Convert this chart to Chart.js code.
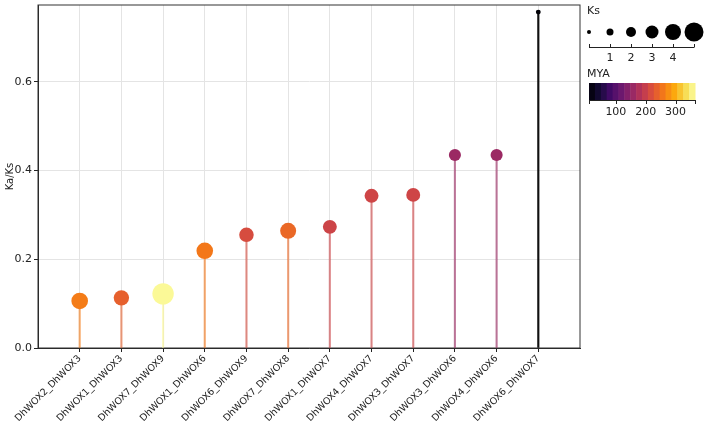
<!DOCTYPE html>
<html>
<head>
<meta charset="utf-8">
<script src="https://cdn.jsdelivr.net/npm/chart.js@4.4.1/dist/chart.umd.min.js"></script>
<style>
  html, body { margin: 0; padding: 0; background: #fff; }
  #wrap { width: 709px; height: 434px; }
</style>
</head>
<body>
<div id="wrap"><canvas id="chart" width="709" height="434"></canvas></div>
<script>
// Data
const pairs = ['DhWOX2_DhWOX3', 'DhWOX1_DhWOX3', 'DhWOX7_DhWOX9', 'DhWOX1_DhWOX6', 'DhWOX6_DhWOX9', 'DhWOX7_DhWOX8',
  'DhWOX1_DhWOX7', 'DhWOX4_DhWOX7', 'DhWOX3_DhWOX7', 'DhWOX3_DhWOX6', 'DhWOX4_DhWOX6', 'DhWOX6_DhWOX7'];
const kaks = [0.106, 0.113, 0.122, 0.219, 0.255, 0.264, 0.273, 0.343, 0.345, 0.435, 0.435, 0.757];
const ks = [4.2, 3.8, 5.8, 4.2, 3.5, 4.0, 3.3, 3.3, 3.3, 2.7, 2.7, 0.3];
const mya = [262, 237, 360, 258, 216, 244, 205, 207, 207, 159, 159, 12];
const yTicks = [0, 0.2, 0.4, 0.6];
const ksLegend = [0, 1, 2, 3, 4, 5];
const ksLegendTicks = [1, 2, 3, 4];
const myaTicks = [100, 200, 300];
const myaRange = [10, 365];

// inferno colormap
const infernoStops = ['#000004', '#160b39', '#420a68', '#6a176e', '#932667', '#bc3754',
  '#dd513a', '#f37819', '#fca50a', '#f6d746', '#fcffa4'];
function hexRgb(h) {
  return [parseInt(h.slice(1, 3), 16), parseInt(h.slice(3, 5), 16), parseInt(h.slice(5, 7), 16)];
}
function inferno(t) {
  t = Math.max(0, Math.min(1, t));
  const p = t * (infernoStops.length - 1);
  const i = Math.min(Math.floor(p), infernoStops.length - 2);
  const f = p - i;
  const a = hexRgb(infernoStops[i]), b = hexRgb(infernoStops[i + 1]);
  return a.map((v, k) => Math.round(v + (b[k] - v) * f));
}
const myaT = m => (m - myaRange[0]) / (myaRange[1] - myaRange[0]);
const rgb = (c, a) => a === undefined ? `rgb(${c.join(',')})` : `rgba(${c.join(',')},${a})`;
const ksRadius = k => 2 + 1.5 * k;

const pointColors = mya.map(m => rgb(inferno(myaT(m))));
const stemColors = mya.map(m => m < 40 ? '#111' : rgb(inferno(myaT(m)), 0.6));

const FONT = 'DejaVu Sans';

// box around plot + legend on the right
const extras = {
  id: 'extras',
  beforeDatasetsDraw(chart) {
    const { ctx, chartArea: a } = chart;
    ctx.save();
    ctx.strokeStyle = '#333';
    ctx.lineWidth = 1;
    ctx.strokeRect(a.left, a.top, a.right - a.left, a.bottom - a.top);
    ctx.restore();
  },
  afterDraw(chart) {
    const ctx = chart.ctx;
    ctx.save();
    ctx.fillStyle = '#222';
    ctx.strokeStyle = '#222';
    ctx.font = `11px ${FONT}`;
    ctx.textBaseline = 'middle';
    ctx.textAlign = 'left';
    // Ks size legend
    ctx.fillText('Ks', 587, 11);
    const kx0 = 589, kdx = 21, ky = 32, kaxis = 47;
    ksLegend.forEach(k => {
      ctx.beginPath();
      ctx.arc(kx0 + k * kdx, ky, ksRadius(k), 0, Math.PI * 2);
      ctx.fillStyle = '#000';
      ctx.fill();
    });
    ctx.lineWidth = 1;
    ctx.beginPath();
    ctx.moveTo(kx0, kaxis + 0.5);
    ctx.lineTo(kx0 + 5 * kdx, kaxis + 0.5);
    [0, ...ksLegendTicks, 5].forEach(k => {
      const x = Math.round(kx0 + k * kdx) + 0.5;
      ctx.moveTo(x, kaxis - 3);
      ctx.lineTo(x, kaxis + 0.5);
    });
    ctx.stroke();
    ctx.fillStyle = '#222';
    ctx.textAlign = 'center';
    ksLegendTicks.forEach(k => ctx.fillText(String(k), kx0 + k * kdx, 58));
    // MYA colorbar
    ctx.textAlign = 'left';
    ctx.fillText('MYA', 587, 74);
    const cx0 = 589, cx1 = 695, cy0 = 83, cy1 = 100, nBlocks = 18;
    const bw = (cx1 - cx0) / nBlocks;
    for (let i = 0; i < nBlocks; i++) {
      ctx.fillStyle = rgb(inferno((i + 0.5) / nBlocks));
      ctx.fillRect(cx0 + i * bw, cy0, bw + 0.5, cy1 - cy0);
    }
    const mx = m => cx0 + (m - myaRange[0]) / (myaRange[1] - myaRange[0]) * (cx1 - cx0);
    ctx.beginPath();
    ctx.moveTo(cx0, cy1 + 0.5);
    ctx.lineTo(cx1, cy1 + 0.5);
    [cx0, ...myaTicks.map(mx), cx1].forEach(x => {
      ctx.moveTo(Math.round(x) + 0.5, cy1);
      ctx.lineTo(Math.round(x) + 0.5, cy1 + 4);
    });
    ctx.stroke();
    ctx.fillStyle = '#222';
    ctx.textAlign = 'center';
    myaTicks.forEach(m => ctx.fillText(String(m), mx(m), 112));
    ctx.restore();
  }
};

new Chart(document.getElementById('chart'), {
  type: 'bar',
  data: {
    datasets: [
      {
        type: 'scatter',
        label: 'Ka/Ks',
        data: kaks.map((v, i) => ({ x: i, y: v })),
        pointRadius: ks.map(ksRadius),
        pointBackgroundColor: pointColors,
        pointBorderWidth: 0,
        pointBorderColor: 'transparent',
        order: 0
      },
      {
        type: 'bar',
        label: 'stem',
        data: kaks.map((v, i) => ({ x: i, y: v })),
        backgroundColor: stemColors,
        barThickness: 1.5,
        borderWidth: 0,
        order: 1
      }
    ]
  },
  options: {
    responsive: false,
    animation: false,
    layout: { autoPadding: false, padding: { top: 5, right: 129, left: 0, bottom: 0 } },
    plugins: { legend: { display: false }, tooltip: { enabled: false } },
    scales: {
      x: {
        type: 'linear',
        offset: false,
        min: -1,
        max: 12,
        afterBuildTicks: axis => { axis.ticks = pairs.map((p, i) => ({ value: i })); },
        afterFit: axis => { axis.height = 86; axis.paddingLeft = 0; axis.paddingRight = 0; },
        grid: { offset: false, color: '#e4e4e4', tickColor: '#222', tickLength: 4, lineWidth: 1 },
        border: { color: '#222', width: 1 },
        ticks: {
          autoSkip: false,
          minRotation: 45,
          maxRotation: 45,
          padding: 1,
          color: '#222',
          font: { family: FONT, size: 9.5 },
          callback: v => pairs[v] !== undefined ? pairs[v] : ''
        }
      },
      y: {
        min: 0,
        max: 0.773,
        afterBuildTicks: axis => { axis.ticks = yTicks.map(v => ({ value: v })); },
        afterFit: axis => { axis.width = 38; axis.paddingTop = 0; axis.paddingBottom = 0; },
        grid: { color: '#e4e4e4', tickColor: '#222', tickLength: 4, lineWidth: 1 },
        border: { color: '#222', width: 1 },
        ticks: {
          padding: 2,
          color: '#222',
          font: { family: FONT, size: 11 },
          callback: v => v.toFixed(1)
        },
        title: {
          display: true,
          text: 'Ka/Ks',
          color: '#222',
          font: { family: FONT, size: 10 },
          padding: { top: 4, bottom: 0 }
        }
      }
    }
  },
  plugins: [extras]
});
</script>
</body>
</html>
